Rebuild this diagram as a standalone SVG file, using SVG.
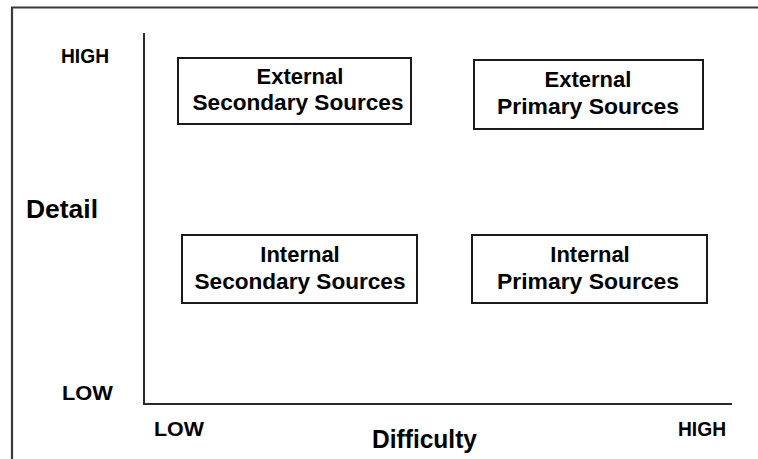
<svg xmlns="http://www.w3.org/2000/svg" width="758" height="459" viewBox="0 0 758 459">
<style>
.frame{fill:none;stroke:#3a3a3a;stroke-width:2.2}
.axis{fill:none;stroke:#2a2a2a;stroke-width:2}
.box{fill:#fff;stroke:#1a1a1a;stroke-width:2}
.t{font-family:"Liberation Sans",Arial,sans-serif;font-weight:bold;fill:#000;text-anchor:middle;font-size:22px}
.lbl{font-family:"Liberation Sans",Arial,sans-serif;font-weight:bold;fill:#000;font-size:21px}
</style>
<rect x="0" y="0" width="758" height="459" fill="#fff"/>
<path class="frame" d="M12,470 V7.5 H770"/>
<g id="connectors">
<path class="axis" d="M144,33 V404 H732"/>
</g>
<g id="labels">
<text class="lbl" x="61" y="63" textLength="48" lengthAdjust="spacingAndGlyphs">HIGH</text>
<text class="lbl" x="62" y="400" textLength="51" lengthAdjust="spacingAndGlyphs">LOW</text>
<text class="lbl" x="154" y="436" textLength="50" lengthAdjust="spacingAndGlyphs">LOW</text>
<text class="lbl" x="678" y="436" textLength="48" lengthAdjust="spacingAndGlyphs">HIGH</text>
<text class="lbl" x="26" y="218" style="font-size:26px" textLength="72" lengthAdjust="spacingAndGlyphs">Detail</text>
<text class="lbl" x="372" y="448" style="font-size:25px" textLength="105" lengthAdjust="spacingAndGlyphs">Difficulty</text>
</g>
<g id="ext-secondary">
<rect class="box" x="178" y="58" width="233" height="66"/>
<text class="t" x="300" y="84">External</text>
<text class="t" x="298" y="110" textLength="211" lengthAdjust="spacingAndGlyphs">Secondary Sources</text>
</g>
<g id="ext-primary">
<rect class="box" x="474" y="60" width="229" height="69"/>
<text class="t" x="588" y="87">External</text>
<text class="t" x="588" y="114" textLength="182" lengthAdjust="spacingAndGlyphs">Primary Sources</text>
</g>
<g id="int-secondary">
<rect class="box" x="182" y="235" width="235" height="68"/>
<text class="t" x="300" y="262">Internal</text>
<text class="t" x="300" y="289" textLength="211" lengthAdjust="spacingAndGlyphs">Secondary Sources</text>
</g>
<g id="int-primary">
<rect class="box" x="472" y="235" width="235" height="68"/>
<text class="t" x="590" y="262">Internal</text>
<text class="t" x="588" y="289" textLength="182" lengthAdjust="spacingAndGlyphs">Primary Sources</text>
</g>
</svg>
